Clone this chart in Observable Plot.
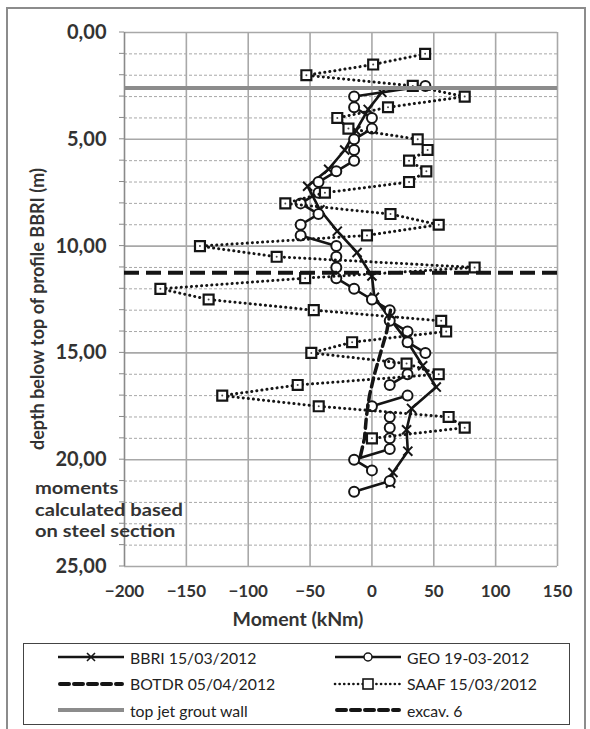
<!DOCTYPE html>
<html><head><meta charset="utf-8">
<script src="https://cdn.jsdelivr.net/npm/d3@7"></script>
<script src="https://cdn.jsdelivr.net/npm/@observablehq/plot@0.6"></script>
<style>
body{margin:0;background:#fff;}
#wrap{position:relative;width:590px;height:729px;overflow:hidden;font-family:Lato,"Open Sans",sans-serif;background:#fff;}
#frame{position:absolute;left:6px;top:7px;width:576px;height:760px;border:2px solid #8c8c8c;}
#chart{position:absolute;left:0;top:0;}
#note{position:absolute;left:35px;top:477px;display:inline-block;white-space:nowrap;font-weight:700;font-size:17.8px;line-height:21.6px;color:#333;transform:scale(1.13,1);transform-origin:0 0;}
#ylab{position:absolute;left:-103px;top:299px;width:280px;text-align:center;white-space:nowrap;font-weight:700;font-size:18px;line-height:22px;color:#333;transform:rotate(-90deg);}
#xlab{position:absolute;left:198px;top:607px;width:200px;text-align:center;font-weight:700;font-size:19.5px;line-height:24px;color:#333;}
#legend{position:absolute;left:23px;top:643px;width:545px;height:80px;border:1.5px solid #444;background:#fff;}
.item{position:absolute;height:20px;display:flex;align-items:center;font-size:15.8px;color:#222;white-space:nowrap;}
.item svg{margin-right:4px;}
</style></head>
<body><div id="wrap"><div id="frame"></div><div id="chart"></div>
<div id="note">moments<br>calculated based<br>on steel section</div>
<div id="ylab">depth below top of profile BBRI (m)</div>
<div id="xlab">Moment (kNm)</div>
<div id="legend"></div></div>
<script>
// ---- data ----
const saafDepth = [1,1.5,2,2.5,3,3.5,4,4.5,5,5.5,6,6.5,7,7.5,8,8.5,9,9.5,10,10.5,11,11.5,12,12.5,13,13.5,14,14.5,15,15.5,16,16.5,17,17.5,18,18.5,19];
const saafMoment = [43,1,-53,33,75,13,-28,-19,37,45,30,44,30,-38,-70,15,54,-4,-139,-77,83,-54,-171,-132,-47,56,60,-16,-49,28,54,-60,-121,-43,62,75,0];

const geoDepth = [2.5,3,3.5,4,4.5,5,5.5,6,6.5,7,7.5,8,8.5,9,9.5,10,10.5,11,11.5,12,12.5,13,13.5,14,14.5,15,15.5,16,16.5,17,17.5,18,18.5,19,19.5,20,20.5,21,21.5];
const geoMoment = [43.2,-14.4,-14.4,0,0,-14.4,-14.4,-14.4,-28.8,-43.2,-43.2,-57.6,-43.2,-57.6,-57.6,-28.8,-28.8,-28.8,-28.8,-14.4,0,14.4,14.4,28.8,28.8,43.2,14.4,28.8,14.4,28.8,0,14.4,14.4,14.4,14.4,-14.4,0,14.4,-14.4];
const geoRun = [0,0,0,0,0,0,0,0,0,0,0,0,0,0,0,0,0,0,0,0,0,0,0,0,0,0,1,2,2,3,3,4,4,4,4,4,4,5,5];

const bbriDepth = [2.8,3.6,4.6,5.5,6.4,7.2,8.3,9.3,10.3,11.4,12.4,13.5,14.5,15.6,16.6,17.6,18.6,19.6,20.6,21.1];
const bbriMoment = [8,-3,-13,-22,-35,-52,-42,-28,-12,0,2,16,29,41,52,32,28,29,17,15];

const botdrDepth = [13,14,15,16,17,18,19,20];
const botdrMoment = [15,12,7,2,-2,-4.5,-6,-10];

const groutDepth = [2.6];
const excavDepth = [11.25];

const xTicks = [-200,-150,-100,-50,0,50,100,150];
const yTicks = [0,5,10,15,20,25];
const yMinor = [1,2,3,4,6,7,8,9,11,12,13,14,16,17,18,19,21,22,23,24];
const yTickMarks = [0,1,2,3,4,5,6,7,8,9,10,11,12,13,14,15,16,17,18,19,20,21,22,23,24,25];

// ---- tables ----
const saaf = saafDepth.map((d,i)=>({d, m:saafMoment[i]}));
const geo = geoDepth.map((d,i)=>({d, m:geoMoment[i], run:geoRun[i]}));
const bbri = bbriDepth.map((d,i)=>({d, m:bbriMoment[i]}));
const botdr = botdrDepth.map((d,i)=>({d, m:botdrMoment[i]}));

const ink = "#151515";
const grid = "#a8a8a8";

const chart = Plot.plot({
  width: 590, height: 640,
  marginLeft: 124, marginRight: 33, marginTop: 32, marginBottom: 74,
  style: {fontFamily: "Lato, 'Open Sans', sans-serif", fontWeight: "bold", color: "#333", background: "transparent", overflow: "visible"},
  x: {domain: [-200, 150]},
  y: {domain: [0, 25], reverse: true},
  marks: [
    Plot.ruleY(yMinor, {stroke: grid, strokeWidth: 1, strokeDasharray: "3,2"}),
    Plot.ruleY(yTicks, {stroke: grid, strokeWidth: 1.6}),
    Plot.ruleX(xTicks.slice(1), {stroke: grid, strokeWidth: 1.6}),
    Plot.ruleX([-200], {stroke: "#8a8a8a", strokeWidth: 1.6}),
    Plot.axisY(yTicks, {tickSize: 0, tickPadding: 18, fontSize: 20, tickFormat: d => d.toFixed(2).replace(".", ","), label: null}),
    Plot.axisX(xTicks, {tickSize: 0, tickPadding: 18, fontSize: 17, label: null}),
    // BBRI
    Plot.line(bbri, {x: "m", y: "d", stroke: ink, strokeWidth: 2.6}),
    Plot.dot(bbri, {x: "m", y: "d", symbol: "times", r: 4.2, stroke: ink, strokeWidth: 2}),
    // GEO
    Plot.line(geo, {x: "m", y: "d", z: "run", stroke: ink, strokeWidth: 2.6}),
    Plot.dot(geo, {x: "m", y: "d", r: 5, fill: "white", stroke: ink, strokeWidth: 2}),
    // BOTDR
    Plot.line(botdr, {x: "m", y: "d", stroke: ink, strokeWidth: 3.5, strokeDasharray: "9,5"}),
    // SAAF
    Plot.line(saaf, {x: "m", y: "d", stroke: ink, strokeWidth: 3, strokeDasharray: "0.1,5", strokeLinecap: "round"}),
    Plot.dot(saaf, {x: "m", y: "d", symbol: "square", r: 5.6, fill: "white", stroke: ink, strokeWidth: 2.2}),
    Plot.dot(saaf, {x: "m", y: "d", r: 1, fill: "#444"}),
    // reference lines
    Plot.ruleY(groutDepth, {stroke: "#8c8c8c", strokeWidth: 4}),
    Plot.ruleY(excavDepth, {stroke: ink, strokeWidth: 4, strokeDasharray: "15,7"})
  ]
});
// small left tick marks placed with the y scale
const ys = chart.scale("y"), xs = chart.scale("x");
d3.select(chart).append("g").attr("stroke", "#8a8a8a").attr("stroke-width", 1)
  .selectAll("line").data(yTickMarks).join("line")
  .attr("x1", xs.apply(-200) - 5).attr("x2", xs.apply(-200))
  .attr("y1", d => ys.apply(d)).attr("y2", d => ys.apply(d));
document.getElementById("chart").appendChild(chart);

// ---- legend ----
const legendItems = [
  {label: "BBRI 15/03/2012", kind: "bbri", col: 0, row: 0},
  {label: "GEO 19-03-2012", kind: "geo", col: 1, row: 0},
  {label: "BOTDR 05/04/2012", kind: "botdr", col: 0, row: 1},
  {label: "SAAF 15/03/2012", kind: "saaf", col: 1, row: 1},
  {label: "top jet grout wall", kind: "grout", col: 0, row: 2},
  {label: "excav. 6", kind: "excav", col: 1, row: 2}
];
const leg = d3.select("#legend");
legendItems.forEach(it => {
  const div = leg.append("div").attr("class", "item")
    .style("left", (it.col ? 309 : 32) + "px")
    .style("top", (3 + it.row * 26.5) + "px");
  const svg = div.append("svg").attr("width", 70).attr("height", 16);
  const line = svg.append("line").attr("x1", 2).attr("x2", 68).attr("y1", 8).attr("y2", 8).attr("stroke", ink);
  if (it.kind === "bbri" || it.kind === "geo") line.attr("stroke-width", 2.6);
  if (it.kind === "botdr" || it.kind === "excav") line.attr("stroke-width", 4).attr("stroke-dasharray", "9,5").attr("stroke-linecap", "round").attr("x1", 4).attr("x2", 66);
  if (it.kind === "saaf") line.attr("stroke-width", 2.6).attr("stroke-dasharray", "0.1,4.5").attr("stroke-linecap", "round");
  if (it.kind === "grout") line.attr("stroke-width", 4).attr("stroke", "#8c8c8c");
  if (it.kind === "bbri") svg.append("path").attr("d", "M31,4L39,12M39,4L31,12").attr("stroke", ink).attr("stroke-width", 1.6);
  if (it.kind === "geo") svg.append("circle").attr("cx", 35).attr("cy", 8).attr("r", 4).attr("fill", "white").attr("stroke", ink).attr("stroke-width", 1.5);
  if (it.kind === "saaf") svg.append("rect").attr("x", 30).attr("y", 3).attr("width", 10).attr("height", 10).attr("fill", "white").attr("stroke", ink).attr("stroke-width", 1.6);
  div.append("span").text(it.label);
});
</script></body></html>
